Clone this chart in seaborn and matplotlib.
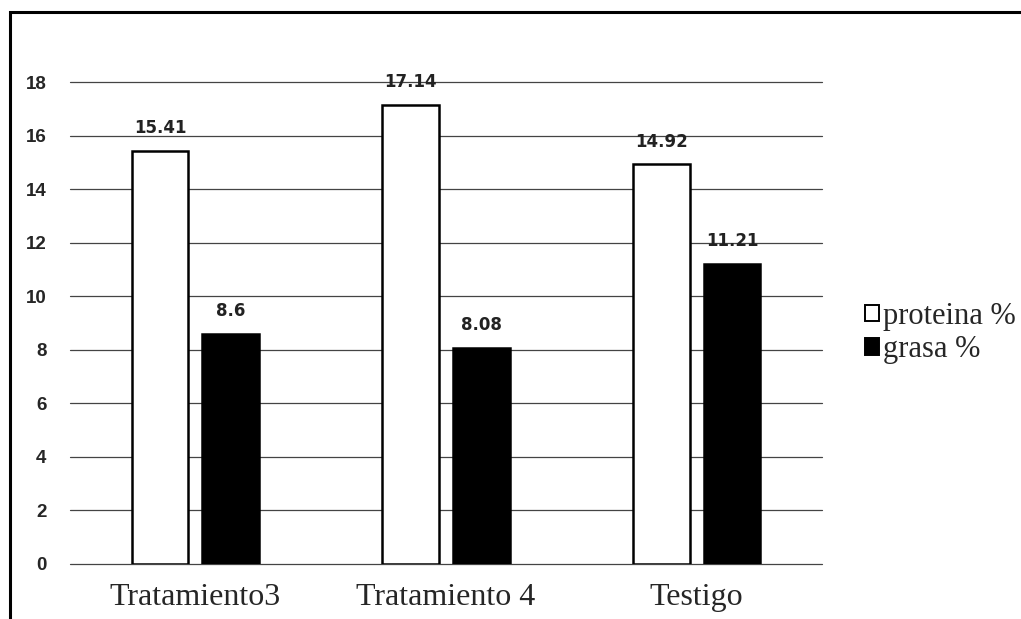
import matplotlib
matplotlib.use("Agg")
import matplotlib.pyplot as plt
import pandas as pd
import seaborn as sns
from matplotlib.patches import Rectangle

categories = ["Tratamiento3", "Tratamiento 4", "Testigo"]
series = ["proteina %", "grasa %"]
proteina = [15.41, 17.14, 14.92]
grasa = [8.6, 8.08, 11.21]
value_labels = {"proteina %": ["15.41", "17.14", "14.92"], "grasa %": ["8.6", "8.08", "11.21"]}
y_ticks = [0, 2, 4, 6, 8, 10, 12, 14, 16, 18]

frame = pd.DataFrame(
    {
        "categoria": categories * 2,
        "serie": [series[0]] * 3 + [series[1]] * 3,
        "valor": proteina + grasa,
    }
)

sns.set_theme(style="white")

fig = plt.figure(figsize=(10.21, 6.19), dpi=100)
ax = fig.add_axes([0.0686, 0.0889, 0.7364, 0.7786])

sns.barplot(
    data=frame,
    x="categoria",
    y="valor",
    hue="serie",
    order=categories,
    hue_order=series,
    palette=["white", "black"],
    width=0.565,
    gap=0.2,
    edgecolor="black",
    linewidth=1.8,
    ax=ax,
    legend=False,
)

for container, name in zip(ax.containers, series):
    ax.bar_label(
        container,
        labels=value_labels[name],
        padding=10,
        fontsize=12,
        fontweight="bold",
        color="#222222",
        family="DejaVu Sans",
        clip_on=False,
    )

ax.set_ylim(0, 18)
ax.set_yticks(y_ticks)
ax.set_xlim(-0.5, 2.5)
ax.set_axisbelow(True)
ax.yaxis.grid(True, color="#444444", linewidth=0.9)
for line in ax.get_ygridlines():
    line.set_clip_on(False)
ax.xaxis.grid(False)
for spine in ax.spines.values():
    spine.set_visible(False)
ax.set_xlabel("")
ax.set_ylabel("")
ax.tick_params(axis="y", length=0, pad=17, labelsize=13.5)
ax.tick_params(axis="x", length=0, pad=14, labelsize=23)
for label in ax.get_yticklabels():
    label.set_fontweight("bold")
    label.set_family("Liberation Sans")
for label in ax.get_xticklabels():
    label.set_family("Liberation Serif")

handles = [
    Rectangle((0, 0), 1, 1, facecolor="white", edgecolor="black", linewidth=1.4),
    Rectangle((0, 0), 1, 1, facecolor="black", edgecolor="black", linewidth=1.4),
]
fig.legend(
    handles,
    series,
    loc="center left",
    bbox_to_anchor=(0.847, 0.462),
    frameon=False,
    prop={"family": "Liberation Serif", "size": 22},
    handlelength=0.45,
    handleheight=0.45,
    handletextpad=0.15,
    labelspacing=0.15,
    borderaxespad=0,
    borderpad=0,
)

fig.add_artist(
    Rectangle((0.0098, -0.02), 1.1, 1.0006, transform=fig.transFigure,
              fill=False, edgecolor="black", linewidth=2.2)
)

fig.savefig("out.png", dpi=100)
